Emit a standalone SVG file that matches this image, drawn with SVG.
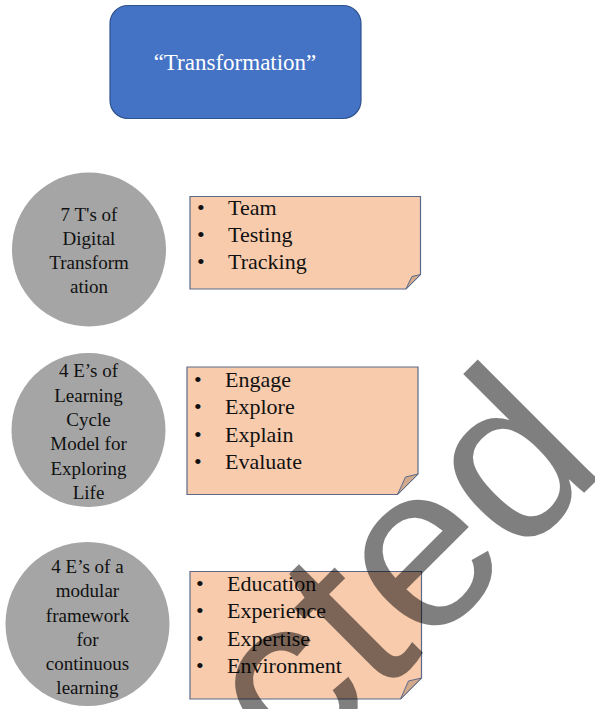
<svg xmlns="http://www.w3.org/2000/svg" width="595" height="709" viewBox="0 0 595 709">
<style>
.circ{fill:#A5A5A5}
.ct{font-family:"Liberation Serif","Times New Roman",serif;font-size:19px;fill:#111;text-anchor:middle}
.box{fill:#F8CBAD;stroke:#5B6A8A;stroke-width:1.2}
.fold{fill:#D2A98A;stroke:#5B6A8A;stroke-width:1}
.bt{font-family:"Liberation Serif","Times New Roman",serif;font-size:22px;fill:#111}
.wm{font-family:"Liberation Sans",Arial,sans-serif;font-size:234px;fill:#000;fill-opacity:0.5}
</style>
<rect width="595" height="709" fill="#fff"/>
<g id="title">
<rect x="110" y="5.5" width="251" height="113" rx="18" fill="#4472C4" stroke="#2F528F" stroke-width="1.2"/>
<text x="235" y="70" font-family="Liberation Serif,'Times New Roman',serif" font-size="23" fill="#fff" text-anchor="middle">“Transformation”</text>
</g>
<g id="c1">
<circle class="circ" cx="89" cy="249.5" r="77"/>
<text class="ct" x="89" y="221">7 T's of</text>
<text class="ct" x="89" y="245">Digital</text>
<text class="ct" x="89" y="269">Transform</text>
<text class="ct" x="89" y="293">ation</text>
</g>
<g id="b1">
<path class="box" d="M190,196.5 H420.5 V274.5 L406,289 H190 Z"/>
<path class="fold" d="M406,289 L420.5,274.5 L412,276.5 Q409,282 406,289 Z"/>
<text class="bt" x="197" y="215">•</text><text class="bt" x="228" y="215">Team</text>
<text class="bt" x="197" y="242">•</text><text class="bt" x="228" y="242">Testing</text>
<text class="bt" x="197" y="269">•</text><text class="bt" x="228" y="269">Tracking</text>
</g>
<g id="c2">
<circle class="circ" cx="88.5" cy="430" r="77"/>
<text class="ct" x="88.5" y="377">4 E’s of</text>
<text class="ct" x="88.5" y="401.5">Learning</text>
<text class="ct" x="88.5" y="426">Cycle</text>
<text class="ct" x="88.5" y="450">Model for</text>
<text class="ct" x="88.5" y="474.5">Exploring</text>
<text class="ct" x="88.5" y="498.5">Life</text>
</g>
<g id="b2">
<path class="box" d="M187,367 H418 V474 L397.5,494.5 H187 Z"/>
<path class="fold" d="M397.5,494.5 L418,474 L405.5,477 Q401.5,486 397.5,494.5 Z"/>
<text class="bt" x="194" y="387">•</text><text class="bt" x="225" y="387">Engage</text>
<text class="bt" x="194" y="414">•</text><text class="bt" x="225" y="414">Explore</text>
<text class="bt" x="194" y="442">•</text><text class="bt" x="225" y="442">Explain</text>
<text class="bt" x="194" y="469">•</text><text class="bt" x="225" y="469">Evaluate</text>
</g>
<g id="c3">
<circle class="circ" cx="87.5" cy="624" r="82"/>
<text class="ct" x="87.5" y="573">4 E’s of a</text>
<text class="ct" x="87.5" y="597">modular</text>
<text class="ct" x="87.5" y="621.5">framework</text>
<text class="ct" x="87.5" y="645.5">for</text>
<text class="ct" x="87.5" y="670">continuous</text>
<text class="ct" x="87.5" y="694">learning</text>
</g>
<g id="b3">
<path class="box" d="M190,571.5 H421.5 V678 L400.5,699 H190 Z"/>
<path class="fold" d="M400.5,699 L421.5,678 L408.5,681 Q404.5,690 400.5,699 Z"/>
<text class="bt" x="196" y="591">•</text><text class="bt" x="227" y="591">Education</text>
<text class="bt" x="196" y="618">•</text><text class="bt" x="227" y="618">Experience</text>
<text class="bt" x="196" y="646">•</text><text class="bt" x="227" y="646">Expertise</text>
<text class="bt" x="196" y="673">•</text><text class="bt" x="227" y="673">Environment</text>
</g>
<g id="connectors"></g>
<text class="wm" x="296" y="781" transform="rotate(-45 296 781)">cted</text>
</svg>
